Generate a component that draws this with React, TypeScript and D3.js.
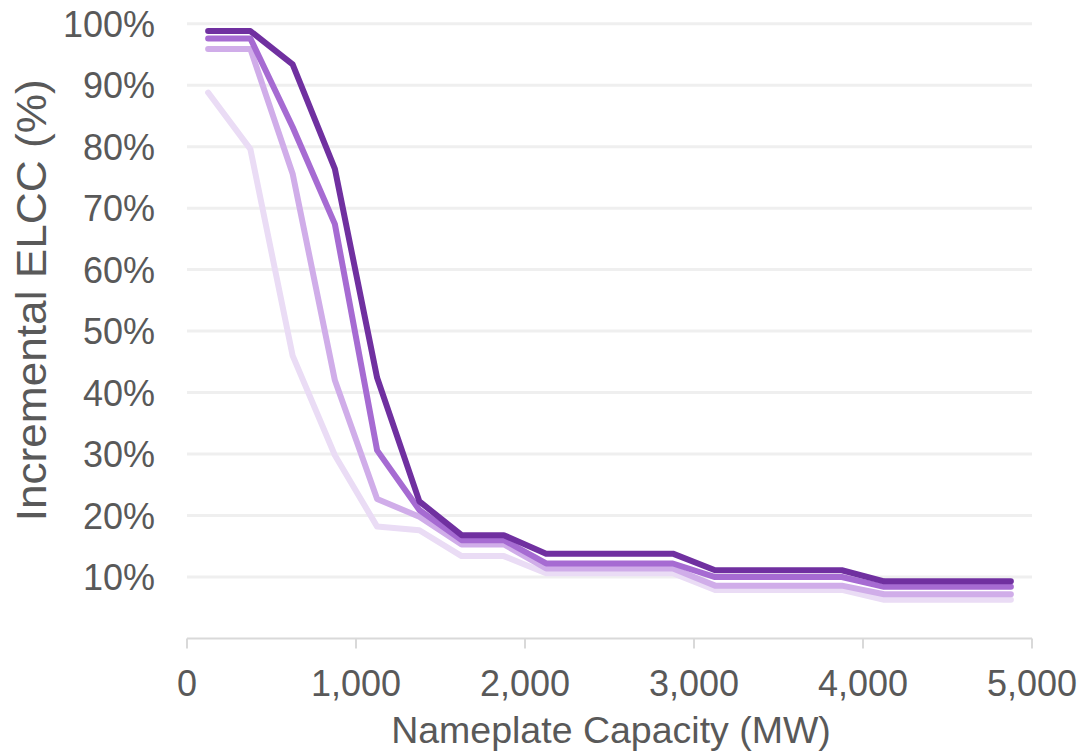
import React from "react";
import * as d3 from "d3";

const capacityMW = [125, 375, 625, 875, 1125, 1375, 1625, 1875, 2125, 2375, 2625, 2875, 3125, 3375, 3625, 3875, 4125, 4375, 4625, 4875];

const seriesLightest = [88.8, 79.6, 46, 29.8, 18.2, 17.6, 13.4, 13.4, 10.6, 10.6, 10.6, 10.6, 7.9, 7.9, 7.9, 7.9, 6.3, 6.3, 6.3, 6.3];
const seriesLight = [95.9, 95.9, 75.6, 42, 22.7, 19.8, 15.3, 15.3, 11.4, 11.4, 11.4, 11.4, 8.6, 8.6, 8.6, 8.6, 7.2, 7.2, 7.2, 7.2];
const seriesMedium = [97.6, 97.6, 83.2, 67.4, 30.6, 20.9, 16.0, 16.0, 12.2, 12.2, 12.2, 12.2, 10.0, 10.0, 10.0, 10.0, 8.4, 8.4, 8.4, 8.4];
const seriesDark = [98.8, 98.8, 93.4, 76.4, 42.4, 22.3, 16.8, 16.8, 13.8, 13.8, 13.8, 13.8, 11.1, 11.1, 11.1, 11.1, 9.3, 9.3, 9.3, 9.3];

const seriesList = [seriesLightest, seriesLight, seriesMedium, seriesDark];
const seriesColors = ["#eadcf5", "#d0ade9", "#a66bd2", "#7030a0"];

const yTicks = [10, 20, 30, 40, 50, 60, 70, 80, 90, 100];
const xTicks = [0, 1000, 2000, 3000, 4000, 5000];

const xTitle = "Nameplate Capacity (MW)";
const yTitle = "Incremental ELCC (%)";

export default function App() {
  const W = 1084;
  const H = 755;
  const left = 187;
  const right = 1032;
  const top = 23.7;
  const bottom = 638.5;

  const x = d3.scaleLinear().domain([0, 5000]).range([left, right]);
  const y = d3.scaleLinear().domain([0, 100]).range([bottom, top]);

  const line = d3
    .line<number>()
    .x((_, i) => x(capacityMW[i]))
    .y((d) => y(d));

  const fmt = d3.format(",");
  const font = "'Liberation Sans', Arial, sans-serif";
  const textColor = "#595959";

  return (
    <div style={{ position: "fixed", left: 0, top: 0, width: W, height: H, background: "#fff" }}>
      <svg width={W} height={H} style={{ display: "block" }}>
        <rect width={W} height={H} fill="#fff" />
        {yTicks.map((t) => (
          <line key={"g" + t} x1={left} x2={right} y1={y(t)} y2={y(t)} stroke="#efefef" strokeWidth={3} />
        ))}
        <line x1={left} x2={right} y1={bottom} y2={bottom} stroke="#d9d9d9" strokeWidth={2} />
        {xTicks.map((t) => (
          <line key={"t" + t} x1={x(t)} x2={x(t)} y1={bottom} y2={bottom + 10} stroke="#d9d9d9" strokeWidth={2} />
        ))}
        {yTicks.map((t) => (
          <text
            key={"yl" + t}
            x={155}
            y={y(t)}
            dy="0.36em"
            textAnchor="end"
            fontFamily={font}
            fontSize={36}
            fill={textColor}
          >
            {t + "%"}
          </text>
        ))}
        {xTicks.map((t) => (
          <text
            key={"xl" + t}
            x={x(t)}
            y={696}
            textAnchor="middle"
            fontFamily={font}
            fontSize={36}
            fill={textColor}
          >
            {fmt(t)}
          </text>
        ))}
        <text x={611} y={743} textAnchor="middle" fontFamily={font} fontSize={37.5} fill={textColor}>
          {xTitle}
        </text>
        <text
          transform={`translate(46, ${(y(10) + y(100)) / 2}) rotate(-90)`}
          textAnchor="middle"
          fontFamily={font}
          fontSize={42}
          textLength={442}
          lengthAdjust="spacingAndGlyphs"
          fill={textColor}
        >
          {yTitle}
        </text>
        {seriesList.map((s, i) => (
          <path
            key={"s" + i}
            d={line(s) || ""}
            fill="none"
            stroke={seriesColors[i]}
            strokeWidth={6}
            strokeLinejoin="round"
            strokeLinecap="round"
          />
        ))}
      </svg>
    </div>
  );
}
